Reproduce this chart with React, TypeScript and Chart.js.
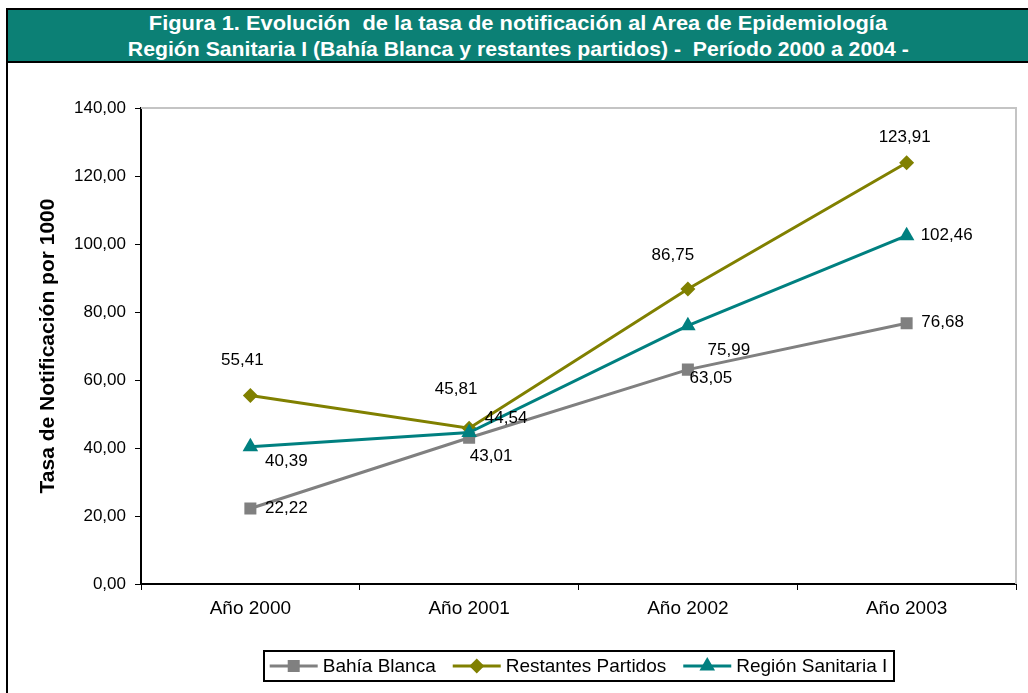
import React, { useEffect, useRef } from 'react';
import { Chart, registerables } from 'chart.js';

Chart.register(...registerables);

// ---------- data ----------
const categories = ['Año 2000', 'Año 2001', 'Año 2002', 'Año 2003'];
const bahiaBlanca = [22.22, 43.01, 63.05, 76.68];
const restantesPartidos = [55.41, 45.81, 86.75, 123.91];
const regionSanitaria = [40.39, 44.54, 75.99, 102.46];
const seriesNames = ['Bahía Blanca', 'Restantes Partidos', 'Región Sanitaria I'];
const yMin = 0;
const yMax = 140;
const yStep = 20;
const titleLines = [
  'Figura 1. Evolución  de la tasa de notificación al Area de Epidemiología',
  'Región Sanitaria I (Bahía Blanca y restantes partidos) -  Período 2000 a 2004 -',
];
const yAxisTitle = 'Tasa de Notificación por 1000';

// ---------- styling ----------
const FONT = '"Liberation Sans", Arial, sans-serif';
const seriesColors = ['#808080', '#808000', '#008080'];
const seriesPointStyles = ['rect', 'rectRot', 'triangle'];
const seriesPointRadius = [8.5, 7.5, 9];
// label placement offsets (dx, dy) relative to each point
const labelOffsets = [
  [[36, 0], [22, 19], [23, 9], [36, -1]],
  [[-8, -35], [-13, -39], [-15, -34], [-2, -25]],
  [[36, 15], [37, -14], [41, 25], [40, 0]],
];
const TEAL = '#0c8075';

const fmt = (v: number) => Number(v).toFixed(2).replace('.', ',');

function measure(text: string, font: string) {
  const c = document.createElement('canvas').getContext('2d')!;
  c.font = font;
  return c.measureText(text).width;
}

const titleFont = `bold 21px ${FONT}`;
const titleTargets = [739, 781];
const titleTops = [11, 37];

function drawMarker(ctx: CanvasRenderingContext2D, style: string, x: number, y: number, color: string) {
  ctx.fillStyle = color;
  ctx.beginPath();
  if (style === 'rect') {
    ctx.rect(x - 6, y - 6, 12, 12);
  } else if (style === 'rectRot') {
    ctx.moveTo(x, y - 7.5);
    ctx.lineTo(x + 7.5, y);
    ctx.lineTo(x, y + 7.5);
    ctx.lineTo(x - 7.5, y);
    ctx.closePath();
  } else {
    ctx.moveTo(x, y - 9);
    ctx.lineTo(x + 7.8, y + 4.5);
    ctx.lineTo(x - 7.8, y + 4.5);
    ctx.closePath();
  }
  ctx.fill();
}

const decorPlugin = {
  id: 'decor',
  beforeDatasetsDraw(chart: any) {
    const { ctx, chartArea } = chart;
    ctx.save();
    ctx.strokeStyle = '#c4c4c4';
    ctx.lineWidth = 2;
    ctx.beginPath();
    ctx.moveTo(chartArea.left, chartArea.top);
    ctx.lineTo(chartArea.right, chartArea.top);
    ctx.lineTo(chartArea.right, chartArea.bottom);
    ctx.stroke();
    ctx.restore();
  },
  afterDatasetsDraw(chart: any) {
    const { ctx } = chart;
    ctx.save();
    ctx.font = `17px ${FONT}`;
    ctx.fillStyle = '#000';
    ctx.textAlign = 'center';
    ctx.textBaseline = 'middle';
    chart.data.datasets.forEach((ds: any, i: number) => {
      const meta = chart.getDatasetMeta(i);
      meta.data.forEach((pt: any, j: number) => {
        const [dx, dy] = labelOffsets[i][j];
        ctx.fillText(fmt(ds.data[j]), pt.x + dx, pt.y + dy);
      });
    });
    ctx.restore();
  },
  afterDraw(chart: any) {
    const { ctx, chartArea } = chart;
    // y axis title
    ctx.save();
    ctx.translate(40, (chartArea.top + chartArea.bottom) / 2);
    ctx.rotate(-Math.PI / 2);
    ctx.font = `bold 21px ${FONT}`;
    ctx.fillStyle = '#000';
    ctx.textAlign = 'center';
    ctx.textBaseline = 'middle';
    ctx.fillText(yAxisTitle, 0, 0);
    ctx.restore();

    // legend
    ctx.save();
    ctx.font = `19px ${FONT}`;
    const lineW = 48;
    const gapText = 5;
    const gapItem = 17;
    const pad = 6;
    const names = chart.data.datasets.map((d: any) => d.label);
    const widths = names.map((n: string) => ctx.measureText(n).width);
    let total = pad * 2;
    widths.forEach((w: number, i: number) => {
      total += lineW + gapText + w + (i < widths.length - 1 ? gapItem : 0);
    });
    const cx = (chartArea.left + chartArea.right) / 2;
    const cy = 603;
    const boxH = 30;
    let x = cx - total / 2;
    ctx.strokeStyle = '#000';
    ctx.lineWidth = 2;
    ctx.strokeRect(Math.round(x), cy - boxH / 2, Math.round(total), boxH);
    x += pad;
    ctx.textBaseline = 'middle';
    ctx.textAlign = 'left';
    names.forEach((n: string, i: number) => {
      const col = seriesColors[i];
      ctx.strokeStyle = col;
      ctx.lineWidth = 3;
      ctx.beginPath();
      ctx.moveTo(x, cy);
      ctx.lineTo(x + lineW, cy);
      ctx.stroke();
      drawMarker(ctx, seriesPointStyles[i], x + lineW / 2, cy, col);
      x += lineW + gapText;
      ctx.fillStyle = '#000';
      ctx.fillText(n, x, cy + 1);
      x += widths[i] + gapItem;
    });
    ctx.restore();
  },
};

export default function App() {
  const canvasRef = useRef<HTMLCanvasElement | null>(null);

  useEffect(() => {
    if (!canvasRef.current) return;
    const seriesData = [bahiaBlanca, restantesPartidos, regionSanitaria];
    const chart = new Chart(canvasRef.current, {
      type: 'line',
      data: {
        labels: categories,
        datasets: seriesData.map((d, i) => ({
          label: seriesNames[i],
          data: d,
          borderColor: seriesColors[i],
          backgroundColor: seriesColors[i],
          borderWidth: 3,
          pointStyle: seriesPointStyles[i] as any,
          pointRadius: seriesPointRadius[i],
          pointHoverRadius: seriesPointRadius[i],
          pointBorderWidth: 0,
          pointBackgroundColor: seriesColors[i],
          tension: 0,
          order: 3 - i,
        })),
      },
      options: {
        responsive: false,
        animation: false,
        events: [],
        layout: { padding: { top: 45, right: 12, left: 0, bottom: 0 } },
        plugins: {
          legend: { display: false },
          tooltip: { enabled: false },
          title: { display: false },
        },
        scales: {
          x: {
            type: 'category',
            offset: true,
            grid: {
              offset: true,
              drawOnChartArea: false,
              drawTicks: true,
              tickLength: 6,
              color: '#000',
              lineWidth: 1,
            },
            border: { display: true, color: '#000', width: 2 },
            ticks: {
              color: '#000',
              font: { family: FONT, size: 19 },
              padding: 7,
              maxRotation: 0,
            },
            afterFit: (s: any) => {
              s.height = 109;
            },
          },
          y: {
            min: yMin,
            max: yMax,
            grid: {
              drawOnChartArea: false,
              drawTicks: true,
              tickLength: 6,
              color: '#000',
              lineWidth: 1,
            },
            border: { display: true, color: '#000', width: 2 },
            ticks: {
              stepSize: yStep,
              color: '#000',
              font: { family: FONT, size: 17 },
              padding: 9,
              callback: (v: any) => fmt(v),
            },
            afterFit: (s: any) => {
              s.width = 133;
            },
          },
        },
      },
      plugins: [decorPlugin],
    });
    return () => chart.destroy();
  }, []);

  const scales = titleLines.map((t, i) => titleTargets[i] / measure(t, titleFont));

  return (
    <div
      style={{
        position: 'absolute',
        left: 0,
        top: 0,
        width: 1028,
        height: 693,
        overflow: 'hidden',
        background: '#fff',
      }}
    >
      <div
        style={{
          position: 'absolute',
          left: 6,
          top: 8,
          width: 1040,
          height: 55,
          boxSizing: 'border-box',
          borderTop: '2px solid #000',
          borderLeft: '2px solid #000',
          borderBottom: '2px solid #000',
          background: TEAL,
        }}
      />
      {titleLines.map((t, i) => (
        <div
          key={i}
          style={{
            position: 'absolute',
            left: 0,
            width: 1036,
            top: titleTops[i],
            height: 24,
            lineHeight: '24px',
            textAlign: 'center',
            color: '#fff',
            font: titleFont,
            whiteSpace: 'pre',
          }}
        >
          <span style={{ display: 'inline-block', transform: `scaleX(${scales[i]})`, transformOrigin: 'center' }}>
            {t}
          </span>
        </div>
      ))}
      <div style={{ position: 'absolute', left: 6, top: 63, width: 2, height: 700, background: '#000' }} />
      <canvas
        ref={canvasRef}
        width={1020}
        height={630}
        style={{ position: 'absolute', left: 8, top: 63, width: 1020, height: 630 }}
      />
    </div>
  );
}
